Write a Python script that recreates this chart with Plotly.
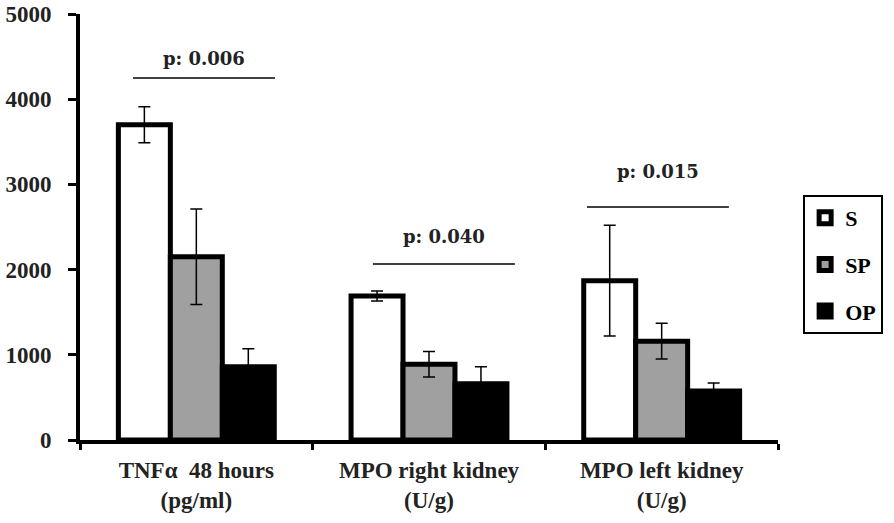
import plotly.graph_objects as go

categories = ["TNFα  48 hours<br>(pg/ml)", "MPO right kidney<br>(U/g)", "MPO left kidney<br>(U/g)"]
series_names = ["S", "SP", "OP"]
s_values = [3700, 1690, 1870]
s_errors = [210, 60, 650]
sp_values = [2150, 890, 1160]
sp_errors = [560, 150, 210]
op_values = [860, 660, 575]
op_errors = [210, 200, 95]
p_labels = ["p: 0.006", "p: 0.040", "p: 0.015"]
p_line_y = [4250, 2066, 2735]
p_text_y = [4480, 2390, 3150]
y_ticks = [0, 1000, 2000, 3000, 4000, 5000]

FONT = "Liberation Serif"
fig = go.Figure()

styles = [
    dict(color="white", pattern=None),
    dict(color="white", pattern=dict(shape=".", fgcolor="#000000", bgcolor="#ffffff", size=2, solidity=0.75)),
    dict(color="black", pattern=None),
]
values = [s_values, sp_values, op_values]
errors = [s_errors, sp_errors, op_errors]

for i, name in enumerate(series_names):
    marker = dict(color=styles[i]["color"], line=dict(color="black", width=5))
    if styles[i]["pattern"]:
        marker["pattern"] = styles[i]["pattern"]
    fig.add_trace(go.Bar(
        x=categories, y=values[i], name=name, marker=marker,
        legendgroup=name,
        error_y=dict(type="data", array=errors[i], visible=True, color="black",
                     thickness=1.5, width=6),
    ))

# p-value lines and labels
offsets = [(-0.272, 0.338), (-0.241, 0.369), (-0.321, 0.289)]
for i, lab in enumerate(p_labels):
    fig.add_shape(type="line", xref="x", yref="y",
                  x0=i + offsets[i][0], x1=i + offsets[i][1],
                  y0=p_line_y[i], y1=p_line_y[i],
                  line=dict(color="black", width=1.5))
    fig.add_annotation(x=i + (offsets[i][0] + offsets[i][1]) / 2, y=p_text_y[i],
                       xref="x", yref="y", text="<b>" + lab + "</b>", showarrow=False,
                       font=dict(family="DejaVu Serif", size=18, color="#222"))

fig.update_layout(
    width=894, height=523,
    margin=dict(l=80, r=116, t=14, b=83, autoexpand=False),
    plot_bgcolor="white", paper_bgcolor="white",
    barmode="group", bargap=0.33, bargroupgap=0,
    font=dict(family=FONT, size=22, color="black", weight="bold"),
    showlegend=True,
    legend=dict(x=1.036, y=0.575, xanchor="left", yanchor="top",
                bordercolor="black", borderwidth=2,
                font=dict(family=FONT, size=22, color="black", weight="bold"),
                traceorder="grouped", tracegroupgap=15, itemwidth=30),
)
fig.update_xaxes(showline=True, linecolor="black", linewidth=4,
                 ticks="outside", tickson="boundaries", ticklen=6, tickwidth=3,
                 tickcolor="black", showgrid=False, ticklabelstandoff=6,
                 tickfont=dict(family=FONT, size=23, color="#222", weight="bold"))
fig.update_yaxes(range=[0, 5000], tickvals=y_ticks, showline=True, linecolor="black",
                 linewidth=4, ticks="outside", ticklen=8, tickwidth=3, tickcolor="black",
                 showgrid=False, zeroline=False, ticklabelstandoff=12,
                 tickfont=dict(family=FONT, size=23, color="#222", weight="bold"))

fig.write_html("out.html", config={"displayModeBar": False},
               post_script="document.body.style.margin='0';document.body.style.overflow='hidden';")
